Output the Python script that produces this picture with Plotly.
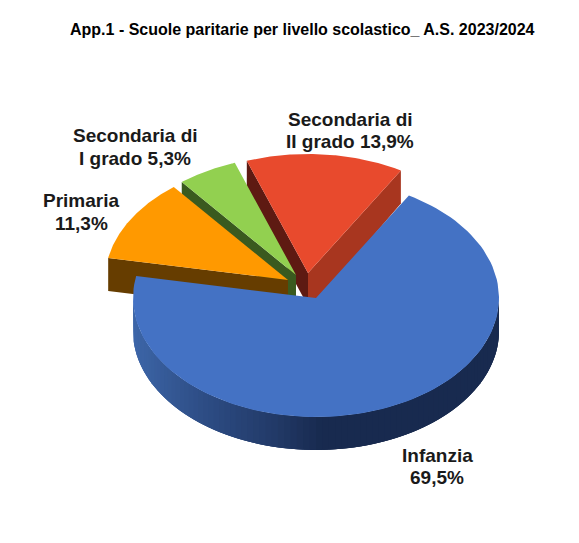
"""App.1 - Scuole paritarie per livello scolastico, torta pseudo-3D."""
import numpy as np
import plotly.graph_objects as go

TITLE = "App.1 - Scuole paritarie per livello scolastico_ A.S. 2023/2024"
# ordine orario a partire da START_ANGLE
categories = ["Infanzia", "Primaria", "Secondaria di I grado", "Secondaria di II grado"]
shares = [69.5, 11.3, 5.3, 13.9]
label_lines = [
    ["Infanzia", "{}%"],
    ["Primaria", "{}%"],
    ["Secondaria di", "I grado {}%"],
    ["Secondaria di", "II grado {}%"],
]

W, H = 579, 543
CX, CY = 316, 298
RX, RY = 183, 119
DEPTH = 33
START_ANGLE = 30.5

top_colors = ["#4472C4", "#FF9900", "#92D050", "#E84A2D"]
offsets = [(0, 0), (-28, -18), (-20, -23), (-8, -25)]
# pareti laterali visibili: lato iniziale o finale dello spicchio
wall_start = [None, "#663D00", "#3A5A1F", "#5E1A12"]
wall_end = [None, None, None, "#A8361F"]
label_pos = [(437, 455, 477), (81, 200, 223), (135, 135, 158), (350, 119, 141)]
draw_order = [3, 2, 1, 0]

GRAD_STOPS = [0.0, 0.22, 0.42, 0.55, 1.0]
GRAD_RGB = [(62, 103, 170), (45, 77, 133), (34, 58, 104), (24, 42, 79), (24, 42, 79)]


def ell(a_deg, ox=0, oy=0, dz=0):
    a = np.radians(a_deg)
    return CX + ox + RX * np.sin(a), CY + oy - RY * np.cos(a) + dz


def poly(fig, xs, ys, color):
    fig.add_trace(go.Scatter(
        x=list(xs), y=list(ys), mode="lines", fill="toself",
        fillcolor=color, line=dict(color=color, width=0),
        hoverinfo="skip", showlegend=False,
    ))


fracs = np.array(shares) / sum(shares) * 360
starts = START_ANGLE + np.concatenate([[0], np.cumsum(fracs)[:-1]])
ends = starts + fracs

fig = go.Figure()

for i in draw_order:
    ox, oy = offsets[i]
    ax, ay = CX + ox, CY + oy
    if wall_start[i]:
        px, py = ell(starts[i], ox, oy)
        poly(fig, [ax, px, px, ax], [ay, py, py + DEPTH, ay + DEPTH], wall_start[i])
    if wall_end[i]:
        px, py = ell(ends[i], ox, oy)
        # +6 verso il centro: la parete finisce sotto la fetta blu, niente fessura bianca
        poly(fig, [ax, px, px, ax], [ay, py, py + DEPTH, ay + DEPTH + 6], wall_end[i])
    if i == 0:
        # bordo esterno con sfumatura: strisce sovrapposte, da destra a sinistra
        edges = np.linspace(90, 270, 91)
        for a0 in edges[:-1][::-1]:
            arc = np.linspace(a0, min(a0 + 6, 270), 7)
            ex, ey = ell(arc)
            t = (ell(a0 + 1)[0] - (CX - RX)) / (2 * RX)
            rgb = [np.interp(t, GRAD_STOPS, [c[k] for c in GRAD_RGB]) for k in range(3)]
            col = "rgb({:.0f},{:.0f},{:.0f})".format(*rgb)
            poly(fig, np.r_[ex, ex[::-1]], np.r_[ey, ey[::-1] + DEPTH], col)
    arc = np.linspace(starts[i], ends[i], 120)
    ex, ey = ell(arc, ox, oy)
    poly(fig, np.r_[ax, ex, ax], np.r_[ay, ey, ay], top_colors[i])

fig.add_annotation(
    x=302, y=29, text=f"<b>{TITLE}</b>", showarrow=False, xref="x", yref="y",
    font=dict(family="Liberation Sans", size=16, color="#000000"),
)
for val, lines, (lx, y1, y2) in zip(shares, label_lines, label_pos):
    pct = f"{val:.1f}".replace(".", ",")
    for line, ly in zip(lines, (y1, y2)):
        fig.add_annotation(
            x=lx, y=ly, text=f"<b>{line.format(pct)}</b>", showarrow=False,
            font=dict(family="Liberation Sans", size=19, color="#1a1a1a"),
        )

fig.update_layout(
    width=W, height=H, margin=dict(l=0, r=0, t=0, b=0),
    paper_bgcolor="white", plot_bgcolor="white", showlegend=False,
    xaxis=dict(range=[0, W], visible=False, fixedrange=True),
    yaxis=dict(range=[H, 0], visible=False, fixedrange=True),
)
fig.write_html(
    "out.html",
    config={"displayModeBar": False},
    post_script="document.body.style.margin='0';document.documentElement.style.overflow='hidden';",
)
